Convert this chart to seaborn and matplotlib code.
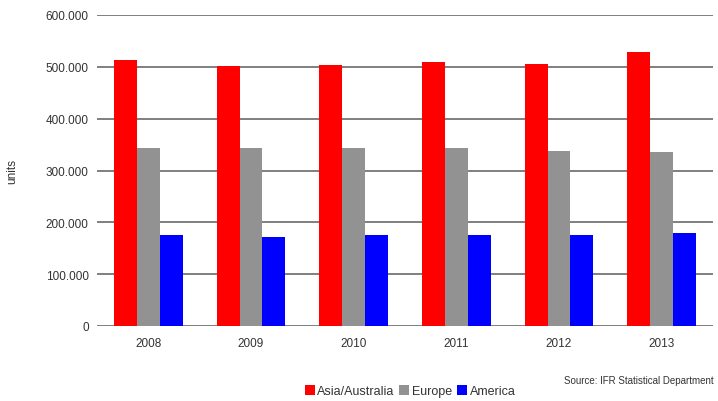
import matplotlib
matplotlib.use("Agg")
import matplotlib.pyplot as plt
import seaborn as sns
import pandas as pd
from matplotlib.ticker import FuncFormatter
from matplotlib.patches import Patch

years = ["2008", "2009", "2010", "2011", "2012", "2013"]
asia = [513000, 502000, 503000, 510000, 505000, 528000]
europe = [343000, 343000, 343000, 343000, 338000, 336000]
america = [176000, 172000, 176000, 176000, 176000, 179000]
series = ["Asia/Australia", "Europe", "America"]
colors = ["#ff0000", "#929292", "#0000ff"]
yticks = [0, 100000, 200000, 300000, 400000, 500000, 600000]

rows = []
for name, vals in zip(series, [asia, europe, america]):
    for y, v in zip(years, vals):
        rows.append({"year": y, "series": name, "units": v})
df = pd.DataFrame(rows)

sns.set_style("white")
plt.rcParams["font.family"] = ["Liberation Sans", "DejaVu Sans"]

fig = plt.figure(figsize=(7.18, 4.02), dpi=100)
ax = fig.add_axes([97/718, 1-327/402, (713-97)/718, (327-16)/402])

sns.barplot(data=df, x="year", y="units", hue="series", hue_order=series,
            palette=colors, order=years, width=0.67, saturation=1,
            ax=ax, legend=False, zorder=3, linewidth=0)

ax.set_ylim(0, 600000)
ax.set_yticks(yticks)
ax.yaxis.set_major_formatter(FuncFormatter(lambda v, p: "0" if v == 0 else f"{int(v):,}".replace(",", ".")))
ax.set_xlim(-0.5, len(years) - 0.5)
ax.grid(axis="y", color="#7f7f7f", linewidth=1.4, zorder=0)
ax.set_axisbelow(True)
for s in ax.spines.values():
    s.set_visible(False)
ax.tick_params(axis="both", length=0, labelsize=8.5, labelcolor="#333333", pad=6)
ax.tick_params(axis="x", pad=8)
ax.set_xlabel("")
ax.set_ylabel("units", fontsize=8.5, color="#333333")
ax.yaxis.set_label_coords((18 - 97) / 616, 0.5)

handles = [Patch(facecolor=c, edgecolor="none") for c in colors]
fig.legend(handles, series, loc="center", bbox_to_anchor=(410/718, 1-392/402),
           ncol=3, frameon=False, fontsize=9, handlelength=0.8, handleheight=0.8,
           handletextpad=0.2, columnspacing=0.4, labelcolor="#333333")
fig.text(714/718, 1-381/402, "Source: IFR Statistical Department", ha="right", va="center",
         fontsize=7, color="#333333")

fig.savefig("out.png", dpi=100)
